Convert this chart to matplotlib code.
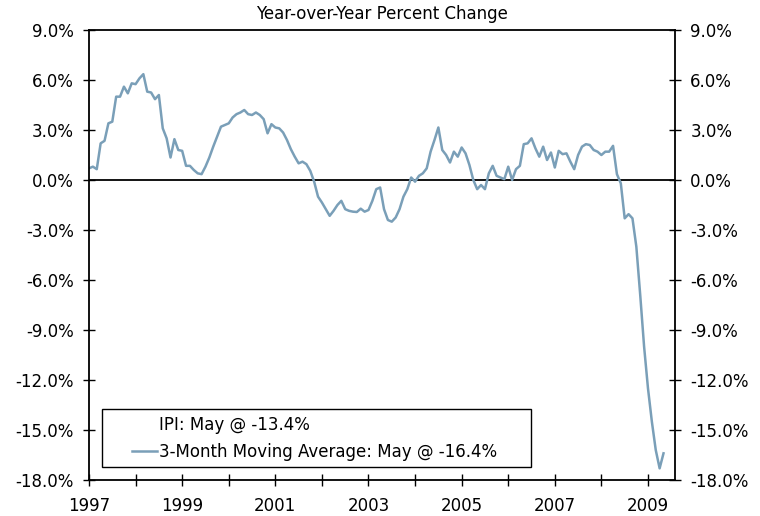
import numpy as np
import matplotlib
matplotlib.use('Agg')
import matplotlib.pyplot as plt
from matplotlib.lines import Line2D
from matplotlib.legend_handler import HandlerLine2D
from matplotlib.ticker import FuncFormatter

# 3个月移动平均, 同比变化(%) - 1997年1月起每月一个值
start_year = 1997
ma_1997 = [0.7, 0.8, 0.65, 2.2, 2.35, 3.4, 3.5, 5.0, 5.0, 5.6, 5.2, 5.8]
ma_1998 = [5.75, 6.1, 6.35, 5.3, 5.25, 4.85, 5.1, 3.1, 2.5, 1.35, 2.45, 1.8]
ma_1999 = [1.75, 0.85, 0.85, 0.6, 0.4, 0.35, 0.8, 1.35, 2.0, 2.6, 3.2, 3.3]
ma_2000 = [3.4, 3.75, 3.95, 4.05, 4.2, 3.95, 3.9, 4.05, 3.9, 3.65, 2.8, 3.35]
ma_2001 = [3.15, 3.1, 2.85, 2.4, 1.85, 1.4, 1.0, 1.1, 0.95, 0.55, -0.1, -1.0]
ma_2002 = [-1.35, -1.75, -2.15, -1.85, -1.5, -1.25, -1.75, -1.85, -1.9, -1.92, -1.72, -1.9]
ma_2003 = [-1.8, -1.25, -0.55, -0.45, -1.75, -2.4, -2.5, -2.25, -1.75, -1.0, -0.55, 0.15]
ma_2004 = [-0.1, 0.25, 0.4, 0.7, 1.7, 2.4, 3.15, 1.8, 1.5, 1.05, 1.7, 1.4]
ma_2005 = [1.95, 1.6, 0.9, 0.0, -0.55, -0.3, -0.55, 0.4, 0.85, 0.25, 0.15, 0.05]
ma_2006 = [0.8, 0.0, 0.65, 0.85, 2.15, 2.2, 2.5, 1.9, 1.4, 2.0, 1.2, 1.65]
ma_2007 = [0.75, 1.75, 1.55, 1.6, 1.1, 0.65, 1.5, 2.0, 2.15, 2.1, 1.8, 1.7]
ma_2008 = [1.5, 1.7, 1.7, 2.05, 0.35, -0.2, -2.3, -2.05, -2.3, -4.0, -6.9, -10.0]
ma_2009 = [-12.5, -14.5, -16.2, -17.3, -16.4]

moving_avg = (ma_1997 + ma_1998 + ma_1999 + ma_2000 + ma_2001 + ma_2002 + ma_2003
              + ma_2004 + ma_2005 + ma_2006 + ma_2007 + ma_2008 + ma_2009)
ipi_may = -13.4

y_ticks = list(range(-18, 10, 3))
x_years = list(range(1997, 2010))

LINE_COLOR = '#7a9fb8'

plt.rcParams['font.family'] = ['DejaVu Sans']
plt.rcParams['font.size'] = 12


class ShortLineHandler(HandlerLine2D):
    """图例线段只画在右半边, 左边留空"""
    def get_xdata(self, legend, xdescent, ydescent, width, height, fontsize):
        xdata = np.array([-xdescent + 0.48 * width, -xdescent + width])
        return xdata, xdata[-1:]


fig = plt.figure(figsize=(7.6, 5.16), dpi=100)
ax = fig.add_axes([89 / 760, 36 / 516, 586 / 760, 450 / 516])

x = start_year + np.arange(len(moving_avg)) / 12.0
ma_line, = ax.plot(x, moving_avg, color=LINE_COLOR, lw=1.8)
ax.axhline(0, color='black', lw=1.3, zorder=1)

ax.set_xlim(1997, 2009.58)
ax.set_ylim(-18, 9)
ax.set_yticks(y_ticks)
ax.yaxis.set_major_formatter(FuncFormatter(lambda v, p: f'{v:.1f}%'))
ax.set_xticks(x_years)
ax.set_xticklabels([str(y) if y % 2 == 1 else '' for y in x_years])

ax.tick_params(axis='y', direction='inout', length=8, width=1, color='black',
               left=True, right=True, labelleft=True, labelright=True, pad=7)
ax.tick_params(axis='x', direction='inout', length=8, width=1, color='black', pad=8)

for s in ax.spines.values():
    s.set_linewidth(1.3)
    s.set_color('black')

ax.set_title('Year-over-Year Percent Change', fontsize=12, pad=8)

ipi_handle = Line2D([], [], color='none')
ma_handle = Line2D([], [], color=LINE_COLOR, lw=1.8)
leg = ax.legend([ipi_handle, ma_handle],
                [f'IPI: May @ {ipi_may:.1f}%',
                 f'3-Month Moving Average: May @ {moving_avg[-1]:.1f}%'],
                loc='lower left',
                bbox_to_anchor=(13 / 586, 13 / 450, 429 / 586, 59 / 450),
                mode='expand', borderaxespad=0, fancybox=False,
                edgecolor='black', framealpha=1, handlelength=2.9,
                handletextpad=0.15, borderpad=0.38, labelspacing=0.55,
                handler_map={ma_handle: ShortLineHandler()})
leg.get_frame().set_linewidth(1.0)

fig.savefig('out.png', dpi=100)
